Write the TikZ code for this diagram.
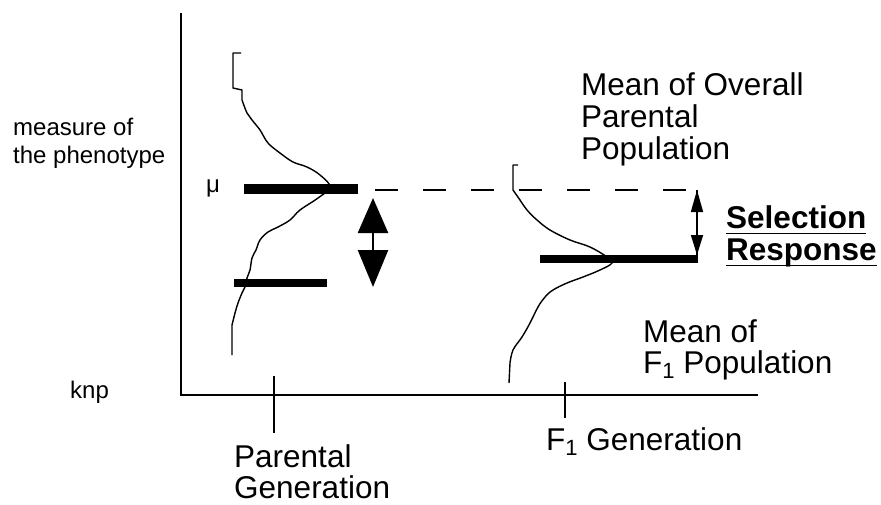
\documentclass[tikz,border=0pt]{standalone}
\usepackage{fontspec}
\setmainfont{Liberation Sans}
\usetikzlibrary{arrows.meta}
% lowered small "1" used in "F1"
\newcommand\lowone{{\fontsize{22}{22}\selectfont\raisebox{-5pt}{1}}}
\begin{document}
\begin{tikzpicture}[x=1pt,y=-1pt,
  axis/.style={line width=1.6pt},
  tickmark/.style={line width=1.4pt},
  curve/.style={line width=1.4pt, line join=round},
  meanbar/.style={line width=#1, line cap=butt},
  small/.style={font=\fontsize{24}{28}\selectfont, inner sep=0pt, anchor=base west},
  big/.style={font=\fontsize{31.5}{32}\selectfont, inner sep=0pt, anchor=base west},
  bigbold/.style={font=\fontsize{31.5}{32}\selectfont\bfseries, inner sep=0pt, anchor=base west},
  meanshift/.style={line width=2.5pt, {Triangle[length=35pt,width=30pt]}-{Triangle[length=37pt,width=30pt]}},
  response/.style={line width=1.5pt, {Triangle[length=22pt,width=12pt]}-{Triangle[length=20pt,width=12pt]}},
]
% page
\path[fill=white, use as bounding box] (0,0) rectangle (881,504);

% axes and generation ticks
\draw[axis] (181,13) -- (181,395) -- (758,395);
\draw[tickmark] (274,376) -- (274,433);
\draw[tickmark] (565,382) -- (565,418);

% parental distribution
\draw[curve] (241,53) -- (233,53) -- (233,88) -- (242,90) -- plot[smooth, tension=0.6] coordinates {
  (242,100) (247,113) (252,120) (260,130) (268,143) (280,153) (293,162)
  (307,167) (320,175) (330,187) (318,198) (300,210) (290,220) (278,227)
  (268,232) (260,240) (256,250) (252,258) (250,270) (247,278) (245,287)
  (242,293) (238,303) (235,313) (232,325)} -- (232,355);

% F1 distribution
\draw[curve] (518,165) -- (513,165) -- (513,190) -- plot[smooth, tension=0.6] coordinates {
  (520,200) (527,210) (537,220) (550,230) (570,240) (590,247) (607,257)
  (612,263) (600,270) (583,277) (567,283) (553,290) (545,297) (538,307)
  (530,323) (522,337) (513,350) (510,363)} -- (509,383);

% mean bars
\draw[meanbar=10pt] (244,189) -- (358,189);
\draw[meanbar=8pt] (234,283) -- (327,283);
\draw[meanbar=8pt] (540,259) -- (698,259);

% labels on the left
\node[small] (meas1) at (13,135) {measure of};
\node[small] (meas2) at (13,163) {the phenotype};
\node[small] (knp) at (70,398) {knp};
\node[small] (mu) at (206,192) {μ};

% labels on the right
\node[big] (ov1) at (581,95) {Mean of Overall};
\node[big] (ov2) at (581,127) {Parental};
\node[big] (ov3) at (581,159) {Population};
\node[bigbold] (sel1) at (726,228) {Selection};
\node[bigbold] (sel2) at (726,260) {Response};
\draw[line width=1.8pt] ([yshift=-5.5pt]sel1.base west) -- ([yshift=-5.5pt]sel1.base east);
\draw[line width=1.8pt] ([yshift=-5.5pt]sel2.base west) -- ([yshift=-5.5pt]sel2.base east);
\node[big] (f1m1) at (643,342) {Mean of};
\node[big] (f1m2) at (643,373) {F\lowone{} Population};

% generation labels
\node[big] (par1) at (234,467) {Parental};
\node[big] (par2) at (234,498) {Generation};
\node[big] (f1gen) at (546,450) {F\lowone{} Generation};

% arrows and dashed reference level
\coordinate (dashL) at (375,190);
\coordinate (respTop) at (697,190);
\coordinate (respBot) at (697,255);
\coordinate (respBar) at (697,259);
\coordinate (shiftTop) at (373,198);
\coordinate (shiftBot) at (373,287);
\draw[line width=1.5pt, dash pattern=on 23pt off 25pt] (dashL) -- (respTop);
\draw[line width=1.5pt] (respTop) -- (respBar);
\draw[response] (respTop) -- (respBot);
\draw[meanshift] (shiftTop) -- (shiftBot);
\end{tikzpicture}
\end{document}
